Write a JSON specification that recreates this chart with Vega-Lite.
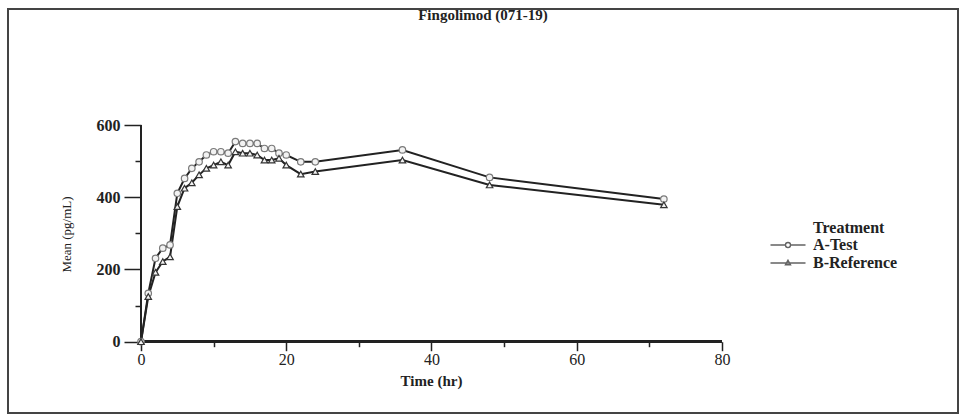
{
  "$schema": "https://vega.github.io/schema/vega-lite/v6.json",
  "width": 950,
  "height": 404,
  "autosize": {"type": "none"},
  "padding": {"left": 8, "top": 9, "right": 5, "bottom": 4},
  "background": "white",
  "title": {"text": "Fingolimod (071-19)", "anchor": "middle", "frame": "group", "baseline": "top", "offset": 0, "dy": 14, "font": "Liberation Serif", "fontSize": 15, "fontWeight": "bold", "color": "#222"},
  "config": {"view": {"stroke": "#444", "strokeWidth": 2}, "font": "Liberation Serif"},
  "data": {"values": [
    {"Time": 0, "Mean": 0, "Treatment": "A-Test"},
    {"Time": 1, "Mean": 134, "Treatment": "A-Test"},
    {"Time": 2, "Mean": 231, "Treatment": "A-Test"},
    {"Time": 3, "Mean": 259, "Treatment": "A-Test"},
    {"Time": 4, "Mean": 268, "Treatment": "A-Test"},
    {"Time": 5, "Mean": 411, "Treatment": "A-Test"},
    {"Time": 6, "Mean": 452, "Treatment": "A-Test"},
    {"Time": 7, "Mean": 480, "Treatment": "A-Test"},
    {"Time": 8, "Mean": 498, "Treatment": "A-Test"},
    {"Time": 9, "Mean": 517, "Treatment": "A-Test"},
    {"Time": 10, "Mean": 526, "Treatment": "A-Test"},
    {"Time": 11, "Mean": 526, "Treatment": "A-Test"},
    {"Time": 12, "Mean": 522, "Treatment": "A-Test"},
    {"Time": 13, "Mean": 554, "Treatment": "A-Test"},
    {"Time": 14, "Mean": 549, "Treatment": "A-Test"},
    {"Time": 15, "Mean": 549, "Treatment": "A-Test"},
    {"Time": 16, "Mean": 549, "Treatment": "A-Test"},
    {"Time": 17, "Mean": 535, "Treatment": "A-Test"},
    {"Time": 18, "Mean": 535, "Treatment": "A-Test"},
    {"Time": 19, "Mean": 522, "Treatment": "A-Test"},
    {"Time": 20, "Mean": 517, "Treatment": "A-Test"},
    {"Time": 22, "Mean": 498, "Treatment": "A-Test"},
    {"Time": 24, "Mean": 498, "Treatment": "A-Test"},
    {"Time": 36, "Mean": 531, "Treatment": "A-Test"},
    {"Time": 48, "Mean": 455, "Treatment": "A-Test"},
    {"Time": 72, "Mean": 395, "Treatment": "A-Test"},
    {"Time": 0, "Mean": 0, "Treatment": "B-Reference"},
    {"Time": 1, "Mean": 125, "Treatment": "B-Reference"},
    {"Time": 2, "Mean": 192, "Treatment": "B-Reference"},
    {"Time": 3, "Mean": 222, "Treatment": "B-Reference"},
    {"Time": 4, "Mean": 235, "Treatment": "B-Reference"},
    {"Time": 5, "Mean": 374, "Treatment": "B-Reference"},
    {"Time": 6, "Mean": 425, "Treatment": "B-Reference"},
    {"Time": 7, "Mean": 440, "Treatment": "B-Reference"},
    {"Time": 8, "Mean": 462, "Treatment": "B-Reference"},
    {"Time": 9, "Mean": 480, "Treatment": "B-Reference"},
    {"Time": 10, "Mean": 489, "Treatment": "B-Reference"},
    {"Time": 11, "Mean": 498, "Treatment": "B-Reference"},
    {"Time": 12, "Mean": 489, "Treatment": "B-Reference"},
    {"Time": 13, "Mean": 526, "Treatment": "B-Reference"},
    {"Time": 14, "Mean": 522, "Treatment": "B-Reference"},
    {"Time": 15, "Mean": 522, "Treatment": "B-Reference"},
    {"Time": 16, "Mean": 517, "Treatment": "B-Reference"},
    {"Time": 17, "Mean": 503, "Treatment": "B-Reference"},
    {"Time": 18, "Mean": 503, "Treatment": "B-Reference"},
    {"Time": 19, "Mean": 508, "Treatment": "B-Reference"},
    {"Time": 20, "Mean": 489, "Treatment": "B-Reference"},
    {"Time": 22, "Mean": 464, "Treatment": "B-Reference"},
    {"Time": 24, "Mean": 471, "Treatment": "B-Reference"},
    {"Time": 36, "Mean": 503, "Treatment": "B-Reference"},
    {"Time": 48, "Mean": 434, "Treatment": "B-Reference"},
    {"Time": 72, "Mean": 379, "Treatment": "B-Reference"}
  ]},
  "encoding": {
    "x": {
      "field": "Time", "type": "quantitative",
      "scale": {"domain": [-18.313, 112.5], "nice": false, "zero": false},
      "axis": {
        "orient": "bottom", "offset": -71.3, "domain": false, "grid": false,
        "values": [0, 10, 20, 30, 40, 50, 60, 70, 80],
        "tickSize": {"condition": {"test": "datum.value % 20 === 0", "value": 9}, "value": 5},
        "tickColor": "#222", "tickWidth": 1.5,
        "labelExpr": "datum.value % 20 === 0 ? datum.label : ''",
        "labelOverlap": false, "labelFlush": false,
        "labelFont": "Liberation Serif", "labelFontSize": 16, "labelColor": "#222", "labelPadding": 1,
        "title": "Time (hr)", "titleFont": "Liberation Serif", "titleFontSize": 15, "titleFontWeight": "bold",
        "titleColor": "#222", "titleX": 423, "titleY": 39, "titleBaseline": "middle"
      }
    },
    "y": {
      "field": "Mean", "type": "quantitative",
      "scale": {"domain": [-197.4, 921.2], "nice": false, "zero": false},
      "axis": {
        "orient": "left", "offset": -133, "domain": false, "grid": false,
        "values": [0, 100, 200, 300, 400, 500, 600],
        "tickSize": {"condition": {"test": "datum.value % 200 === 0", "value": 17}, "value": 6},
        "tickColor": "#222", "tickWidth": 1.5,
        "labelExpr": "datum.value % 200 === 0 ? datum.label : ''",
        "labelOverlap": false, "labelFlush": false,
        "labelFont": "Liberation Serif", "labelFontSize": 16, "labelFontWeight": "bold", "labelColor": "#222", "labelPadding": 4,
        "title": "Mean (pg/mL)", "titleFont": "Liberation Serif", "titleFontSize": 13, "titleFontWeight": "normal",
        "titleColor": "#222", "titleX": -75, "titleY": 225, "titleBaseline": "middle"
      }
    }
  },
  "layer": [
    {
      "mark": {"type": "rule", "color": "#222", "strokeWidth": 2},
      "encoding": {
        "x": {"datum": 0, "type": "quantitative", "scale": {"domain": [-18.313, 112.5], "nice": false, "zero": false}},
        "x2": {"datum": 80},
        "y": {"datum": 0, "type": "quantitative", "scale": {"domain": [-197.4, 921.2], "nice": false, "zero": false}}
      }
    },
    {
      "mark": {"type": "rule", "color": "#222", "strokeWidth": 2},
      "encoding": {
        "x": {"datum": 0, "type": "quantitative", "scale": {"domain": [-18.313, 112.5], "nice": false, "zero": false}},
        "y": {"datum": 0, "type": "quantitative", "scale": {"domain": [-197.4, 921.2], "nice": false, "zero": false}},
        "y2": {"datum": 600}
      }
    },
    {
      "mark": {"type": "line", "color": "#222", "strokeWidth": 2},
      "encoding": {"detail": {"field": "Treatment", "type": "nominal"}}
    },
    {
      "mark": {"type": "point", "filled": false, "fill": "#f2f2f2", "fillOpacity": 1, "size": 42, "strokeWidth": 1.2, "opacity": 1},
      "encoding": {
        "shape": {"field": "Treatment", "type": "nominal", "scale": {"domain": ["A-Test", "B-Reference"], "range": ["circle", "triangle-up"]}, "legend": null},
        "stroke": {"field": "Treatment", "type": "nominal", "scale": {"domain": ["A-Test", "B-Reference"], "range": ["#7a7a7a", "#333333"]}, "legend": null}
      }
    },
    {
      "transform": [{"filter": "datum.Mean < 0"}],
      "mark": {"type": "point", "filled": false},
      "encoding": {
        "shape": {
          "field": "Treatment", "type": "nominal",
          "scale": {"domain": ["A-Test", "B-Reference"], "range": [
            "M-3.5,0H-0.5M0.5,0H3.5M0.5,0A0.5,0.5,0,1,1,-0.5,0A0.5,0.5,0,1,1,0.5,0",
            "M-3.5,0H3.5M0,-0.55L0.5,0.35L-0.5,0.35Z"
          ]},
          "legend": {
            "orient": "none", "legendX": 805, "legendY": 211, "padding": 0,
            "title": "Treatment", "titleFont": "Liberation Serif", "titleFontSize": 16, "titleFontWeight": "bold",
            "titleColor": "#222", "titlePadding": 1, "titleAnchor": "start",
            "labelFont": "Liberation Serif", "labelFontSize": 16, "labelFontWeight": "bold", "labelColor": "#222",
            "labelOffset": 17, "symbolOffset": -33, "symbolSize": 100, "symbolStrokeColor": "#222", "symbolFillColor": "white",
            "symbolStrokeWidth": 1.4, "rowPadding": 2
          }
        }
      }
    }
  ],
  "resolve": {"scale": {"shape": "independent", "stroke": "independent"}}
}
